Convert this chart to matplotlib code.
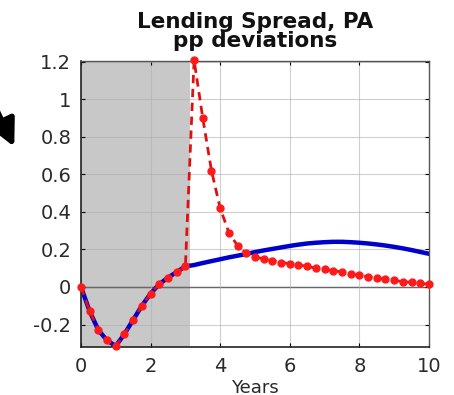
import numpy as np
import matplotlib
matplotlib.use("Agg")
import matplotlib.pyplot as plt

plt.rcParams['font.family'] = ['DejaVu Sans']

# quarterly horizon, in years
years = np.arange(41) / 4

# lending spread response, pp deviations
baseline = [0.0, -0.13, -0.23, -0.285, -0.315, -0.25, -0.175, -0.10, -0.035,
            0.015, 0.05, 0.08, 0.11,
            0.117, 0.128, 0.138, 0.148, 0.158, 0.167, 0.176, 0.186, 0.195,
            0.203, 0.211, 0.219, 0.226, 0.232, 0.236, 0.239, 0.241, 0.241,
            0.239, 0.236, 0.232, 0.227, 0.221, 0.214, 0.206, 0.197, 0.187,
            0.177]
alternative = [0.0, -0.13, -0.23, -0.285, -0.315, -0.25, -0.175, -0.10, -0.035,
               0.015, 0.05, 0.08, 0.11,
               1.21, 0.90, 0.62, 0.42, 0.29, 0.22, 0.18, 0.16, 0.15, 0.14,
               0.13, 0.125, 0.118, 0.11, 0.10, 0.095, 0.087, 0.08, 0.07,
               0.062, 0.055, 0.048, 0.041, 0.035, 0.029, 0.024, 0.019, 0.015]

shade_end = 3.12
xticks = [0, 2, 4, 6, 8, 10]
yticks = [-0.2, 0, 0.2, 0.4, 0.6, 0.8, 1.0, 1.2]
ytick_labels = ['-0.2', '0', '0.2', '0.4', '0.6', '0.8', '1', '1.2']

fig = plt.figure(figsize=(4.54, 3.95), dpi=100)
ax = fig.add_axes([0.1784, 0.1215, 0.7665, 0.724])

ax.axvspan(0, shade_end, color='#c8c8c8', zorder=0, lw=0)
ax.grid(True, color='#b0b0b0', lw=0.8, alpha=0.6, zorder=0.5)
ax.axhline(0, color='black', lw=0.9, zorder=1)

ax.plot(years, baseline, color='#0000cc', lw=3.2, zorder=2)
ax.plot(years, alternative, color='#e01010', lw=2.0, ls=(0, (3, 2)),
        marker='o', ms=5, mfc='#ff1a1a', mec='#ff1a1a', zorder=3,
        clip_on=False)

ax.set_xlim(0, 10)
ax.set_ylim(-0.32, 1.205)
ax.set_xticks(xticks)
ax.set_xticklabels([str(t) for t in xticks])
ax.set_yticks(yticks)
ax.set_yticklabels(ytick_labels)
ax.tick_params(direction='in', length=3, width=0.8, labelsize=14, pad=7,
               top=True, right=True, colors='black', labelcolor='#2a2a2a')
for side in ['left', 'bottom']:
    ax.spines[side].set_color('#222222')
    ax.spines[side].set_linewidth(1.2)
for side in ['top', 'right']:
    ax.spines[side].set_color('#555555')
    ax.spines[side].set_linewidth(1.0)

ax.set_xlabel('Years', fontsize=13, labelpad=2, color='#2a2a2a')
ax.set_title('Lending Spread, PA\npp deviations', fontsize=15.5,
             fontweight='bold', linespacing=0.95, pad=10, color='#111111')

# pointer arrow entering from the left edge
fig.patches.append(matplotlib.patches.FancyArrowPatch(
    (-0.015, 0.74), (0.034, 0.622), transform=fig.transFigure,
    arrowstyle='-|>,head_length=16,head_width=8', color='black', lw=4,
    mutation_scale=1))

fig.savefig('out.png', dpi=100)
